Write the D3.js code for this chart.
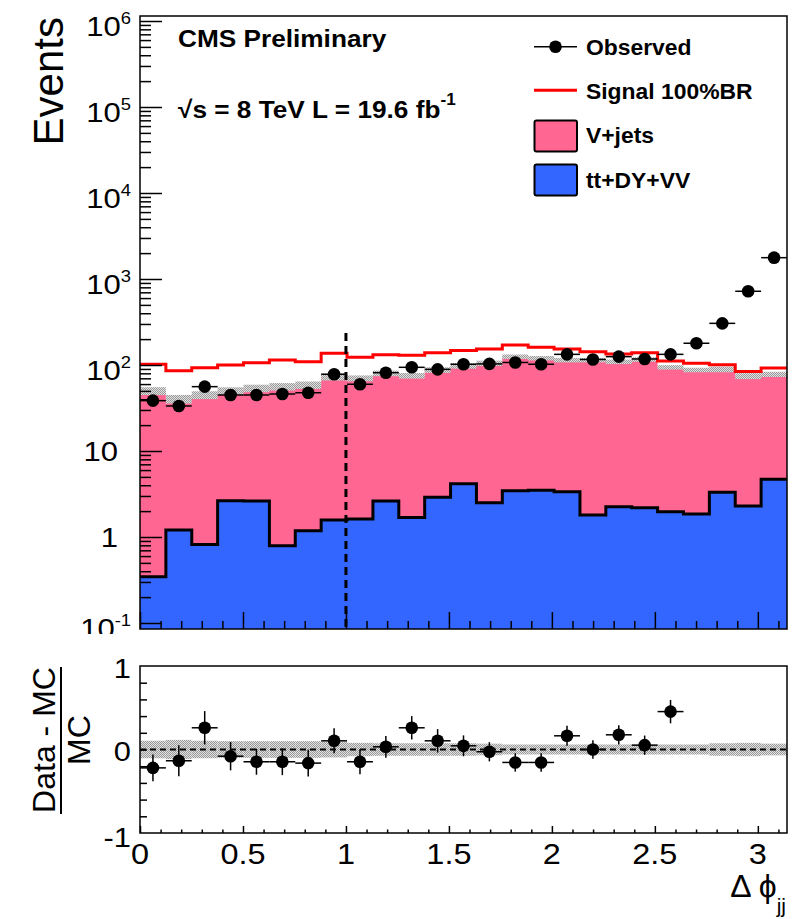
<!DOCTYPE html>
<html>
<head>
<meta charset="utf-8">
<script src="https://cdn.jsdelivr.net/npm/d3@7"></script>
<style>
body { margin: 0; background: #fff; }
svg { display: block; }
text { font-family: "Liberation Sans", Arial, Helvetica, sans-serif; fill: #000; }
</style>
</head>
<body>
<svg width="797" height="919"></svg>
<script>
// 25 bins in delta phi between the two jets, 0 .. pi
var nBins = 25;
var binEdges = d3.range(nBins + 1).map(function(i) { return i * Math.PI / nBins; });

// stacked backgrounds (events per bin)
var otherBkg = [0.345, 1.21, 0.82, 2.64, 2.62, 0.79, 1.18, 1.58, 1.62, 2.62, 1.68, 2.9, 4.17,
                2.5, 3.45, 3.5, 3.36, 1.80, 2.25, 2.19, 1.97, 1.85, 3.31, 2.29, 4.69];
var vjets = [49.6, 39.0, 44.0, 47.4, 51.0, 55.2, 57.3, 71.4, 68.4, 77.4, 73.3, 84.6, 93.8,
             102.5, 121.6, 116.5, 110.6, 112.2, 106.8, 113.8, 92.0, 85.7, 85.7, 72.2, 73.3];
// signal (stacked on top of the background)
var signal = [102, 86, 93, 100, 106, 114, 109, 137, 123, 132, 130, 139, 147,
              153, 171, 161, 153, 143, 134, 139, 111, 105, 101, 84, 92];
var observed = [38.5, 33.4, 56, 44.8, 44.8, 46, 47.6, 78, 59.7, 81.4, 94, 89, 102,
                103, 107, 102, 133, 116, 125, 117.5, 133, 179, 305, 720, 1770];
// relative MC uncertainty (grey band)
var mcErr = [0.105, 0.115, 0.105, 0.1, 0.1, 0.1, 0.1, 0.095, 0.08, 0.075, 0.075, 0.075, 0.075,
             0.07, 0.06, 0.06, 0.06, 0.06, 0.06, 0.06, 0.06, 0.06, 0.075, 0.08, 0.07];
// (data - MC)/MC, first 21 bins (the rest are off scale)
var ratio = [-0.22, -0.135, 0.26, -0.08, -0.147, -0.147, -0.163, 0.104, -0.147, 0.032, 0.26,
             0.104, 0.044, -0.027, -0.155, -0.155, 0.164, 0.0, 0.176, 0.052, 0.454];
var ratioErr = [0.16, 0.185, 0.2, 0.17, 0.155, 0.16, 0.16, 0.15, 0.15, 0.13, 0.14,
                0.14, 0.125, 0.115, 0.11, 0.11, 0.12, 0.11, 0.115, 0.115, 0.14];

var xMajor = [0, 0.5, 1, 1.5, 2, 2.5, 3];
var xLabels = ["0", "0.5", "1", "1.5", "2", "2.5", "3"];
var yDecades = [-1, 0, 1, 2, 3, 4, 5, 6];
var cutX = 1.0, cutTop = 235;

var legendItems = [
  {label: "Observed", kind: "point"},
  {label: "Signal 100%BR", kind: "line", color: "#ff0000"},
  {label: "V+jets", kind: "box", color: "#ff6692"},
  {label: "tt+DY+VV", kind: "box", color: "#3366ff"}
];

var pinkCol = "#ff6692", blueCol = "#3366ff";

var svg = d3.select("svg");
var padL = 140, padR = 787, topY0 = 16, topY1 = 629, ratY0 = 666, ratY1 = 833;

var x = d3.scaleLinear().domain([0, Math.PI]).range([padL, padR]);
var yTop = d3.scaleLog().domain([0.1, 1e6]).range([623, 21]);
var yRat = d3.scaleLinear().domain([-1, 1]).range([ratY1, ratY0]);

var mcTotal = vjets.map(function(v, i) { return v + otherBkg[i]; });

var defs = svg.append("defs");
var pat = defs.append("pattern").attr("id", "dots")
  .attr("width", 2).attr("height", 2).attr("patternUnits", "userSpaceOnUse");
pat.append("rect").attr("width", 2).attr("height", 2).attr("fill", "#e0e0e0");
pat.append("rect").attr("width", 1).attr("height", 1).attr("fill", "#9a9a9a");
pat.append("rect").attr("x", 1).attr("y", 1).attr("width", 1).attr("height", 1).attr("fill", "#9a9a9a");
defs.append("clipPath").attr("id", "clipTop").append("rect")
  .attr("x", padL).attr("y", topY0).attr("width", padR - padL).attr("height", topY1 - topY0);

function txt(parent, px, py, s, size, opt) {
  opt = opt || {};
  return parent.append("text")
    .attr("transform", "translate(" + px + "," + py + ")" + (opt.rot ? " rotate(" + opt.rot + ")" : "") +
      " scale(" + (opt.sx || 1) + ",1)")
    .attr("font-size", size)
    .attr("font-weight", opt.bold ? "bold" : null)
    .attr("font-family", opt.family || null)
    .attr("text-anchor", opt.anchor || "start")
    .text(s);
}

function steps(vals) {
  var p = vals.map(function(v, i) { return [binEdges[i], v]; });
  p.push([binEdges[nBins], vals[nBins - 1]]);
  return p;
}
var areaTop = d3.area().curve(d3.curveStepAfter)
  .x(function(d) { return x(d[0]); }).y0(topY1).y1(function(d) { return yTop(d[1]); });
var lineTop = d3.line().curve(d3.curveStepAfter)
  .x(function(d) { return x(d[0]); }).y(function(d) { return yTop(d[1]); });

// ---- top panel ----
var gTop = svg.append("g").attr("clip-path", "url(#clipTop)");
gTop.append("path").datum(steps(mcTotal)).attr("d", areaTop).attr("fill", pinkCol);
gTop.append("path").datum(steps(otherBkg)).attr("d", areaTop).attr("fill", blueCol);
gTop.append("path").datum(steps(otherBkg)).attr("d", lineTop)
  .attr("fill", "none").attr("stroke", "#000").attr("stroke-width", 3);

gTop.selectAll("rect.band").data(mcTotal).enter().append("rect").attr("class", "band")
  .attr("x", function(d, i) { return x(binEdges[i]); })
  .attr("width", function(d, i) { return x(binEdges[i + 1]) - x(binEdges[i]); })
  .attr("y", function(d, i) { return yTop(d * (1 + mcErr[i])); })
  .attr("height", function(d, i) { return yTop(d * (1 - mcErr[i])) - yTop(d * (1 + mcErr[i])); })
  .attr("fill", "url(#dots)");

gTop.append("path").datum(steps(signal)).attr("d", lineTop)
  .attr("fill", "none").attr("stroke", "#ff0000").attr("stroke-width", 3);

gTop.append("line")
  .attr("x1", x(cutX)).attr("x2", x(cutX)).attr("y1", yTop(cutTop)).attr("y2", topY1)
  .attr("stroke", "#000").attr("stroke-width", 3).attr("stroke-dasharray", "8,5");

var pts = gTop.selectAll("g.obs").data(observed).enter().append("g").attr("class", "obs");
pts.append("line")
  .attr("x1", function(d, i) { return x(binEdges[i]); })
  .attr("x2", function(d, i) { return x(binEdges[i + 1]); })
  .attr("y1", function(d) { return yTop(d); }).attr("y2", function(d) { return yTop(d); })
  .attr("stroke", "#000").attr("stroke-width", 1.5);
pts.append("circle")
  .attr("cx", function(d, i) { return x((binEdges[i] + binEdges[i + 1]) / 2); })
  .attr("cy", function(d) { return yTop(d); }).attr("r", 6.3).attr("fill", "#000");

// top axes (ticks only)
var minorLog = [];
for (var k = -1; k <= 5; k++) for (var m = 2; m <= 9; m++) minorLog.push(m * Math.pow(10, k));
var majorLog = yDecades.map(function(e) { return Math.pow(10, e); });
function tickAxis(axis, pos, vals, size) {
  var g = svg.append("g").attr("transform", pos)
    .call(axis.tickValues(vals).tickSizeInner(size).tickSizeOuter(0).tickFormat(""));
  g.select(".domain").remove();
  g.selectAll("line").attr("stroke", "#000").attr("stroke-width", 1.5);
  return g;
}
tickAxis(d3.axisLeft(yTop), "translate(" + padL + ",0)", minorLog, -11);
tickAxis(d3.axisLeft(yTop), "translate(" + padL + ",0)", majorLog, -22);
var xMinor = d3.range(1, 32).map(function(i) { return i / 10; }).filter(function(v) { return Math.abs(v * 2 - Math.round(v * 2)) > 1e-6; });
tickAxis(d3.axisBottom(x), "translate(0," + topY1 + ")", xMinor, -8);
tickAxis(d3.axisBottom(x), "translate(0," + topY1 + ")", xMajor, -17);

svg.append("rect").attr("x", padL).attr("y", topY0).attr("width", padR - padL).attr("height", topY1 - topY0)
  .attr("fill", "none").attr("stroke", "#000").attr("stroke-width", 1.5);

// y labels top
yDecades.forEach(function(e) {
  var yy = yTop(Math.pow(10, e));
  if (e === 0 || e === 1) {
    txt(svg, 118, yy + 10, e === 0 ? "1" : "10", 27, {anchor: "end", sx: 1.15});
  } else {
    var t = txt(svg, 131, yy + 15, "", 27, {anchor: "end", sx: 1.15});
    t.append("tspan").text("10");
    t.append("tspan").attr("font-size", 16).attr("dy", -12).text(String(e));
  }
});
txt(svg, 63, 17, "Events", 42, {rot: -90, anchor: "end"});

txt(svg, 178, 47, "CMS Preliminary", 24.5, {bold: true, sx: 1.07});
var lumi = txt(svg, 178, 118, "√s = 8 TeV L = 19.6 fb", 24.5, {bold: true, sx: 1.07});
lumi.append("tspan").attr("font-size", 16).attr("dy", -13).text("-1");

// legend
var legY = [46.7, 90.3, 136, 180];
var legBase = [55, 98.5, 143, 188];
legendItems.forEach(function(it, i) {
  var cy = legY[i];
  if (it.kind === "point") {
    svg.append("line").attr("x1", 534).attr("x2", 577).attr("y1", cy).attr("y2", cy)
      .attr("stroke", "#000").attr("stroke-width", 1.5);
    svg.append("circle").attr("cx", 555.5).attr("cy", cy).attr("r", 6.3).attr("fill", "#000");
  } else if (it.kind === "line") {
    svg.append("line").attr("x1", 534).attr("x2", 577).attr("y1", cy).attr("y2", cy)
      .attr("stroke", it.color).attr("stroke-width", 3);
  } else {
    svg.append("rect").attr("x", 534.5).attr("y", cy - 15.5).attr("width", 42.5).attr("height", 31)
      .attr("rx", 2).attr("fill", it.color).attr("stroke", "#000").attr("stroke-width", 2);
  }
  txt(svg, 586, legBase[i], it.label, 22, {bold: true, sx: 1.04});
});

// ---- ratio pad ----
svg.append("rect").attr("x", 0).attr("y", 634).attr("width", 797).attr("height", 285).attr("fill", "#fff");

var gRat = svg.append("g");
gRat.selectAll("rect.rband").data(mcErr).enter().append("rect").attr("class", "rband")
  .attr("x", function(d, i) { return x(binEdges[i]); })
  .attr("width", function(d, i) { return x(binEdges[i + 1]) - x(binEdges[i]); })
  .attr("y", function(d) { return yRat(d); })
  .attr("height", function(d) { return yRat(-d) - yRat(d); })
  .attr("fill", "url(#dots)");
gRat.append("line").attr("x1", padL).attr("x2", padR).attr("y1", yRat(0)).attr("y2", yRat(0))
  .attr("stroke", "#000").attr("stroke-width", 2).attr("stroke-dasharray", "6,4");

var rp = gRat.selectAll("g.rpt").data(ratio).enter().append("g").attr("class", "rpt");
rp.append("line")
  .attr("x1", function(d, i) { return x(binEdges[i]); })
  .attr("x2", function(d, i) { return x(binEdges[i + 1]); })
  .attr("y1", function(d) { return yRat(d); }).attr("y2", function(d) { return yRat(d); })
  .attr("stroke", "#000").attr("stroke-width", 1.5);
rp.append("line")
  .attr("x1", function(d, i) { return x((binEdges[i] + binEdges[i + 1]) / 2); })
  .attr("x2", function(d, i) { return x((binEdges[i] + binEdges[i + 1]) / 2); })
  .attr("y1", function(d, i) { return yRat(d + ratioErr[i]); })
  .attr("y2", function(d, i) { return yRat(d - ratioErr[i]); })
  .attr("stroke", "#000").attr("stroke-width", 1.5);
rp.append("circle")
  .attr("cx", function(d, i) { return x((binEdges[i] + binEdges[i + 1]) / 2); })
  .attr("cy", function(d) { return yRat(d); }).attr("r", 6.3).attr("fill", "#000");

var ratTicks = d3.range(-4, 5).map(function(i) { return i / 5; });
tickAxis(d3.axisLeft(yRat), "translate(" + padL + ",0)", ratTicks, -7);
tickAxis(d3.axisBottom(x), "translate(0," + ratY1 + ")", xMinor, -3.5);
tickAxis(d3.axisBottom(x), "translate(0," + ratY1 + ")", xMajor, -7);
svg.append("rect").attr("x", padL).attr("y", ratY0).attr("width", padR - padL).attr("height", ratY1 - ratY0)
  .attr("fill", "none").attr("stroke", "#000").attr("stroke-width", 1.5);

[[1, "1", 678], [0, "0", 761], [-1, "-1", 847]].forEach(function(r) {
  txt(svg, 131, r[2], r[1], 28, {anchor: "end", sx: 1.1});
});
xMajor.forEach(function(v, i) {
  txt(svg, x(v), 864, xLabels[i], 29, {anchor: "middle", sx: 1.12});
});

txt(svg, 55, 740, "Data - MC", 32, {rot: -90, anchor: "middle"});
txt(svg, 90, 740, "MC", 32, {rot: -90, anchor: "middle"});
svg.append("line").attr("x1", 61).attr("x2", 61).attr("y1", 667).attr("y2", 814)
  .attr("stroke", "#000").attr("stroke-width", 2);

var xt = txt(svg, 786, 897, "Δ ϕ", 32, {anchor: "end", family: "'Liberation Serif', 'DejaVu Serif', serif"});
xt.append("tspan").attr("font-size", 21).attr("dy", 16).text("jj");
</script>
</body>
</html>
